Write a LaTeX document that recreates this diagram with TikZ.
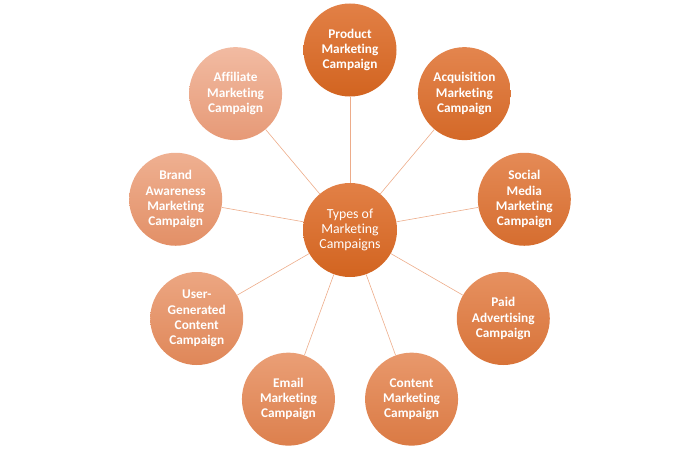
\documentclass[tikz,border=0pt]{standalone}
\usepackage{fontspec}
\setmainfont[Ligatures=NoCommon]{Carlito}
\usetikzlibrary{positioning}

\definecolor{darkTop}{RGB}{226,128,70}
\definecolor{darkBot}{RGB}{210,100,32}
\definecolor{paleTop}{RGB}{243,192,170}
\definecolor{paleBot}{RGB}{232,158,126}
\definecolor{spokeLine}{RGB}{237,172,138}

\tikzset{
  campaign/.style={circle, minimum size=93pt, inner sep=0pt, align=center, text=white,
    font=\fontsize{13.3}{15.3}\selectfont\bfseries, draw=none,
    top color=darkTop!#1!paleTop, bottom color=darkBot!#1!paleBot}
}

\begin{document}
\begin{tikzpicture}[
  x=1pt, y=1pt,
  hub/.style={circle, minimum size=94pt, inner sep=0pt, align=center, text=white,
    font=\fontsize{13.8}{15.2}\selectfont, top color=darkTop, bottom color=darkBot, draw=none},
  spoke/.style={draw=spokeLine, line width=0.6pt}
]
\useasboundingbox (-350,-220) rectangle (350,230);
\node[hub] (types) at (0,0) {Types of\\Marketing\\Campaigns};
\node[campaign=100] (product) at (90:180) {Product\\Marketing\\Campaign};
\node[campaign=92] (acquisition) at (50:178) {Acquisition\\Marketing\\Campaign};
\node[campaign=84] (social) at (10:177) {Social\\Media\\Marketing\\Campaign};
\node[campaign=74] (paid) at (-30:177) {Paid\\Advertising\\Campaign};
\node[campaign=62] (content) at (-70:180) {Content\\Marketing\\Campaign};
\node[campaign=52] (email) at (-110:180) {Email\\Marketing\\Campaign};
\node[campaign=40] (ugc) at (-150:177) {User-\\Generated\\Content\\Campaign};
\node[campaign=25] (brand) at (170:177) {Brand\\Awareness\\Marketing\\Campaign};
\node[campaign=8] (affiliate) at (130:178) {Affiliate\\Marketing\\Campaign};
\draw[spoke] (types) -- (product);
\draw[spoke] (types) -- (acquisition);
\draw[spoke] (types) -- (social);
\draw[spoke] (types) -- (paid);
\draw[spoke] (types) -- (content);
\draw[spoke] (types) -- (email);
\draw[spoke] (types) -- (ugc);
\draw[spoke] (types) -- (brand);
\draw[spoke] (types) -- (affiliate);
\end{tikzpicture}
\end{document}
